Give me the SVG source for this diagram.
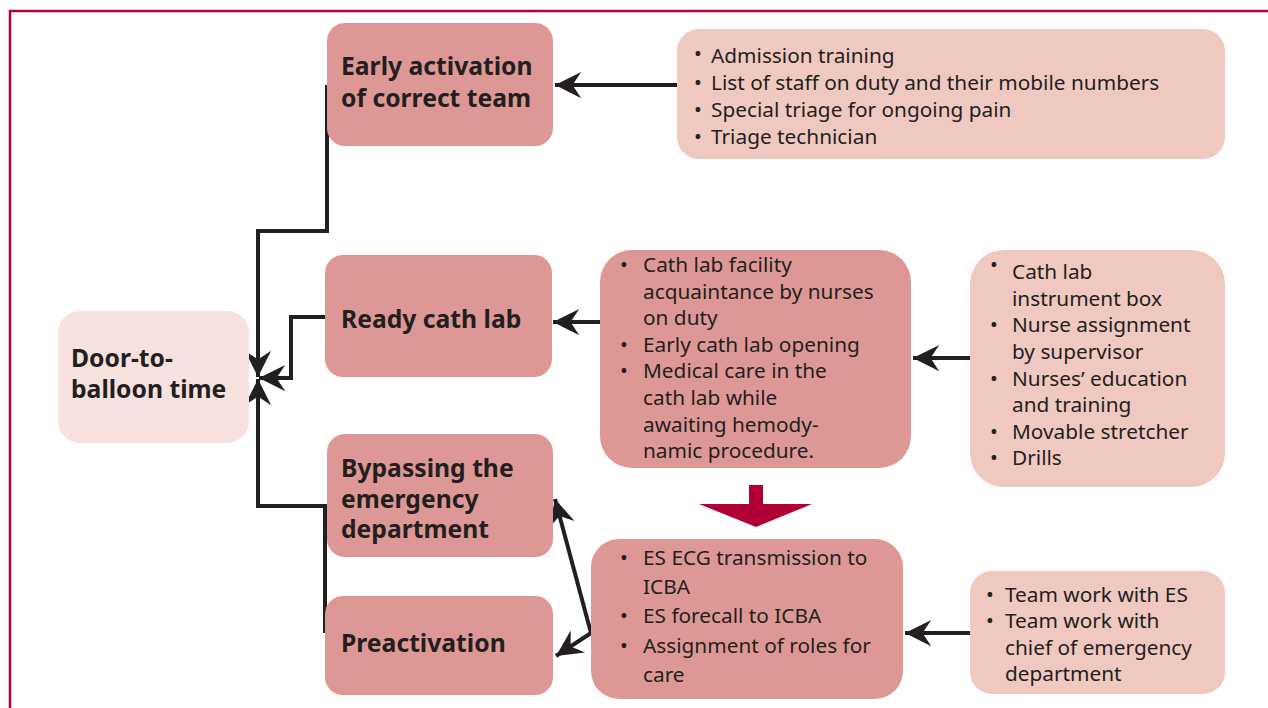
<svg xmlns="http://www.w3.org/2000/svg" width="1268" height="708" viewBox="0 0 1268 708">
<style>
.dark{fill:#dd9895}
.light{fill:#efc8c0}
.pale{fill:#f6e1df}
.b{font-family:"Noto Sans","Open Sans",sans-serif;font-weight:bold;font-size:24.7px;fill:#231f20}
.t{font-family:"Noto Sans","Open Sans",sans-serif;font-size:20.8px;fill:#231f20}
.ln{fill:none;stroke:#231f20;stroke-width:4}
</style>
<defs>
<marker id="ah" markerUnits="userSpaceOnUse" markerWidth="30" markerHeight="30" viewBox="-22 -12 24 24" refX="0" refY="0" orient="auto">
<path d="M0,0 L-21,-10.5 L-14,0 L-21,10.5 Z" fill="#231f20"/>
</marker>
</defs>
<rect x="0" width="1268" height="708" fill="#ffffff"/>
<path d="M10,708 V11 H1268" fill="none" stroke="#b5003a" stroke-width="2.5"/>

<g id="connectors">
<path class="ln" d="M327,85 V231 H258 V377" marker-end="url(#ah)"/>
<path class="ln" d="M325,633 V506 H258 V379" marker-end="url(#ah)"/>
<path class="ln" d="M325,317 H291 V378 H259" marker-end="url(#ah)"/>
<path class="ln" d="M677,85 H555" marker-end="url(#ah)"/>
<path class="ln" d="M600,322 H553" marker-end="url(#ah)"/>
<path class="ln" d="M970,358 H913" marker-end="url(#ah)"/>
<path class="ln" d="M970,633 H905" marker-end="url(#ah)"/>
<path class="ln" d="M591,633 L555,499" marker-end="url(#ah)"/>
<path class="ln" d="M591,633 L556,656" marker-end="url(#ah)"/>
<path d="M749,485 H763 V504 H812 L756,527 L699,504 H749 Z" fill="#b10036"/>
</g>

<g id="door">
<rect class="pale" x="58" y="311" width="191" height="132" rx="22"/>
<text class="b" x="71" y="367">Door-to-</text>
<text class="b" x="71" y="398">balloon time</text>
</g>

<g id="early">
<rect class="dark" x="327" y="23" width="226" height="123" rx="18"/>
<text class="b" x="341" y="75">Early activation</text>
<text class="b" x="341" y="107">of correct team</text>
</g>

<g id="ready">
<rect class="dark" x="325" y="255" width="227" height="122" rx="18"/>
<text class="b" x="341" y="328">Ready cath lab</text>
</g>

<g id="bypass">
<rect class="dark" x="327" y="434" width="226" height="123" rx="18"/>
<text class="b" x="341" y="477">Bypassing the</text>
<text class="b" x="341" y="508">emergency</text>
<text class="b" x="341" y="538">department</text>
</g>

<g id="preact">
<rect class="dark" x="325" y="596" width="228" height="99" rx="18"/>
<text class="b" x="341" y="652">Preactivation</text>
</g>

<g id="admission">
<rect class="light" x="677" y="29" width="548" height="130" rx="22"/>
<text class="t" y="63"><tspan x="694" dy="-2">•</tspan><tspan x="711" dy="2">Admission training</tspan></text>
<text class="t" y="90"><tspan x="694">•</tspan><tspan x="711">List of staff on duty and their mobile numbers</tspan></text>
<text class="t" y="117"><tspan x="694">•</tspan><tspan x="711">Special triage for ongoing pain</tspan></text>
<text class="t" y="143.5"><tspan x="694">•</tspan><tspan x="711">Triage technician</tspan></text>
</g>

<g id="cathfacility">
<rect class="dark" x="600" y="250" width="311" height="218" rx="32"/>
<text class="t" y="272"><tspan x="620">•</tspan><tspan x="643">Cath lab facility</tspan></text>
<text class="t" x="643" y="298.6">acquaintance by nurses</text>
<text class="t" x="643" y="325.2">on duty</text>
<text class="t" y="351.8"><tspan x="620">•</tspan><tspan x="643">Early cath lab opening</tspan></text>
<text class="t" y="378.4"><tspan x="620">•</tspan><tspan x="643">Medical care in the</tspan></text>
<text class="t" x="643" y="405">cath lab while</text>
<text class="t" x="643" y="431.6">awaiting hemody-</text>
<text class="t" x="643" y="458.2">namic procedure.</text>
</g>

<g id="cathitems">
<rect class="light" x="970" y="250" width="255" height="237" rx="34"/>
<text class="t" y="279"><tspan x="990" dy="-7">•</tspan><tspan x="1012" dy="7">Cath lab</tspan></text>
<text class="t" x="1012" y="305.5">instrument box</text>
<text class="t" y="332"><tspan x="990">•</tspan><tspan x="1012">Nurse assignment</tspan></text>
<text class="t" x="1012" y="358.5">by supervisor</text>
<text class="t" y="385.5"><tspan x="990">•</tspan><tspan x="1012">Nurses’ education</tspan></text>
<text class="t" x="1012" y="412">and training</text>
<text class="t" y="438.5"><tspan x="990">•</tspan><tspan x="1012">Movable stretcher</tspan></text>
<text class="t" y="465"><tspan x="990">•</tspan><tspan x="1012">Drills</tspan></text>
</g>

<g id="es">
<rect class="dark" x="591" y="539" width="312" height="160" rx="28"/>
<text class="t" y="565"><tspan x="620">•</tspan><tspan x="643">ES ECG transmission to</tspan></text>
<text class="t" x="643" y="594">ICBA</text>
<text class="t" y="623"><tspan x="620">•</tspan><tspan x="643">ES forecall to ICBA</tspan></text>
<text class="t" y="653"><tspan x="620">•</tspan><tspan x="643">Assignment of roles for</tspan></text>
<text class="t" x="643" y="682">care</text>
</g>

<g id="teamwork">
<rect class="light" x="970" y="571" width="255" height="123" rx="22"/>
<text class="t" y="602"><tspan x="986">•</tspan><tspan x="1005">Team work with ES</tspan></text>
<text class="t" y="628"><tspan x="986">•</tspan><tspan x="1005">Team work with</tspan></text>
<text class="t" x="1005" y="655">chief of emergency</text>
<text class="t" x="1005" y="681">department</text>
</g>
</svg>
